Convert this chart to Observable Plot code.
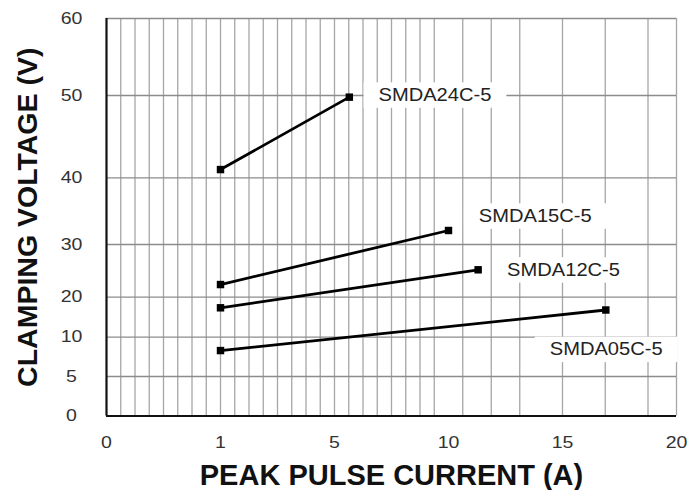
<!DOCTYPE html>
<html><head><meta charset="utf-8">
<script src="https://cdn.jsdelivr.net/npm/d3@7"></script>
<script src="https://cdn.jsdelivr.net/npm/@observablehq/plot@0.6"></script>
<style>body{margin:0;background:#fff}</style>
</head><body><div id="chart"></div>
<script>
// Data
const series = ["SMDA24C-5", "SMDA15C-5", "SMDA12C-5", "SMDA05C-5"];
const startCurrent = [1, 1, 1, 1];
const endCurrent = [5.65, 10, 11.3, 16.9];
const startVoltage = [41, 22.4, 17.35, 8.3];
const endVoltage = [49.8, 32.1, 25.2, 16.8];
const labelCurrent = [6.93, 11.33, 12.57, 14.44];
const labelVoltage = [50, 34.2, 25.1, 8.4];
const xTicks = [0, 1, 5, 10, 15, 20];
const yTicks = [0, 5, 10, 20, 30, 40, 50, 60];
const xGrid = [0.125, 0.25, 0.375, 0.5, 0.625, 0.75, 0.875, 1,
  1.5, 2, 2.5, 3, 3.5, 4, 4.5, 5,
  5.625, 6.25, 6.875, 7.5, 8.125, 8.75, 9.375,
  10.625, 11.875, 13.125, 15, 16.875, 18.75, 20];

const points = series.flatMap((s, i) => [
  {s, x: startCurrent[i], y: startVoltage[i]},
  {s, x: endCurrent[i], y: endVoltage[i]}
]);
const labels = series.map((s, i) => ({s, x: labelCurrent[i], y: labelVoltage[i]}));

const svg = Plot.plot({
  width: 695,
  height: 490,
  marginLeft: 106,
  marginRight: 19,
  marginTop: 18,
  marginBottom: 74.5,
  style: {fontFamily: "'Liberation Sans', Arial, sans-serif", background: "#fff"},
  x: {type: "linear", domain: xTicks, range: [106, 220, 334, 448, 562, 676], axis: null},
  y: {type: "linear", domain: yTicks, range: [415.5, 376, 336.7, 296.7, 244, 177.3, 95, 18], axis: null},
  marks: [
    Plot.ruleX(xGrid, {stroke: "#a6a6a6", strokeWidth: 1.3}),
    Plot.ruleY(yTicks.filter(v => v > 0), {stroke: "#8c8c8c", strokeWidth: 1.3}),
    Plot.ruleX([0], {stroke: "#111", strokeWidth: 2.2}),
    Plot.ruleY([0], {stroke: "#111", strokeWidth: 2.2}),
    Plot.line(points, {x: "x", y: "y", z: "s", stroke: "#000", strokeWidth: 2.8}),
    Plot.dot(points, {x: "x", y: "y", symbol: "square", r: 4.2, fill: "#000"}),
    Plot.text(labels, {x: "x", y: "y", text: "s", textAnchor: "start", lineAnchor: "middle", fontSize: 17.5, fill: "#222"}),
    Plot.text(xTicks, {x: d => d, frameAnchor: "bottom", dy: 27, text: d => String(d), lineAnchor: "middle", fontSize: 16, fill: "#333"}),
    Plot.text(yTicks, {y: d => d, frameAnchor: "left", dx: -35, text: d => String(d), textAnchor: "middle", lineAnchor: "middle", fontSize: 16, fill: "#333"}),
    Plot.text(["PEAK PULSE CURRENT (A)"], {frameAnchor: "bottom", dy: 60, text: d => d, textAnchor: "middle", lineAnchor: "middle", fontSize: 29, fontWeight: "bold", fill: "#111"}),
    Plot.text(["CLAMPING VOLTAGE (V)"], {frameAnchor: "left", dx: -78.5, text: d => d, rotate: -90, textAnchor: "middle", lineAnchor: "middle", fontSize: 28.5, fontWeight: "bold", fill: "#111"})
  ]
});
document.getElementById("chart").append(svg);

// widen the light-weight labels to match the reference's wide face
const tickSet = new Set([...xTicks, ...yTicks].map(String));
const labelSet = new Set(series);
function stretch(el, s) {
  const t = el.getAttribute("transform") || "";
  const x = +el.getAttribute("x") || 0, y = +el.getAttribute("y") || 0;
  el.setAttribute("transform", `${t} translate(${x},${y}) scale(${s},1) translate(${-x},${-y})`);
}
svg.querySelectorAll("text").forEach(el => {
  const c = el.textContent;
  if (tickSet.has(c)) stretch(el, 1.22);
  else if (labelSet.has(c)) {
    stretch(el, 1.15);
    const bb = el.getBBox();
    const r = document.createElementNS("http://www.w3.org/2000/svg", "rect");
    const px = 13, py = 3;
    r.setAttribute("x", bb.x - px);
    r.setAttribute("y", bb.y - py);
    r.setAttribute("width", bb.width + 2 * px);
    r.setAttribute("height", bb.height + 2 * py);
    r.setAttribute("fill", "#fff");
    r.setAttribute("transform", el.getAttribute("transform"));
    el.parentNode.insertBefore(r, el);
  }
});
</script>
</body></html>
